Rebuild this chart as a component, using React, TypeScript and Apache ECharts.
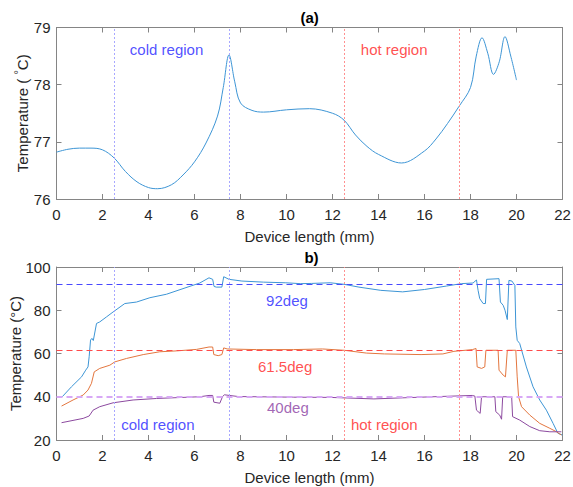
import React, { useEffect, useRef } from "react";
import * as echarts from "echarts";

// ---------- data ----------
const xMin = 0;
const xMax = 22;
const xInterval = 2;

// panel (a)
const topX = [0, 0.5, 1, 1.5, 2, 2.5, 3, 3.5, 4, 4.4, 5, 5.5, 6, 6.5, 7, 7.25, 7.5, 7.75, 8, 8.5, 9, 10, 11, 12, 12.5, 13, 13.5, 14, 15, 16, 16.5, 17, 17.5, 18, 18.25, 18.5, 18.75, 19, 19.25, 19.5, 19.75, 20];
const topY = [76.82, 76.87, 76.89, 76.89, 76.86, 76.72, 76.48, 76.3, 76.2, 76.18, 76.25, 76.42, 76.65, 76.98, 77.45, 77.95, 78.52, 78.05, 77.68, 77.55, 77.52, 77.56, 77.58, 77.5, 77.38, 77.12, 76.92, 76.78, 76.63, 76.84, 77.05, 77.32, 77.62, 77.95, 78.5, 78.82, 78.55, 78.18, 78.4, 78.84, 78.5, 78.08];

// panel (b)
const blueX = [0.25, 0.65, 1.09, 1.27, 1.37, 1.42, 1.48, 1.54, 1.6, 1.74, 1.88, 2.17, 2.46, 2.97, 3.48, 4.06, 4.78, 5.5, 6.23, 6.63, 6.79, 6.85, 6.95, 7.19, 7.27, 7.5, 8.06, 9.0, 9.97, 10.6, 11.08, 11.9, 12.5, 13.15, 14.1, 15.05, 16.0, 16.96, 17.6, 18.11, 18.26, 18.33, 18.4, 18.55, 18.65, 18.7, 19.24, 19.3, 19.42, 19.5, 19.6, 19.67, 19.8, 19.93, 19.97, 20.03, 20.14, 20.43, 20.72, 21.01, 21.3, 21.59, 21.8, 22.0];
const blueY = [40.0, 44.6, 49.2, 52.3, 53.8, 58.5, 66.2, 67.0, 66.0, 73.9, 74.6, 76.9, 79.2, 83.1, 83.8, 85.8, 87.4, 90.0, 92.6, 95.0, 94.3, 91.0, 90.7, 90.7, 95.5, 94.3, 93.5, 93.0, 92.7, 92.3, 92.4, 92.7, 92.0, 90.7, 89.2, 88.5, 89.6, 91.2, 92.3, 92.6, 94.0, 89.2, 85.4, 83.1, 83.1, 94.3, 94.6, 83.8, 82.3, 80.0, 75.7, 93.8, 93.5, 91.5, 72.3, 66.1, 64.6, 53.8, 44.6, 38.5, 33.8, 27.7, 23.1, 22.3];

const orangeX = [0.22, 0.72, 1.16, 1.37, 1.52, 1.64, 1.88, 2.32, 2.53, 3.04, 3.77, 4.49, 5.22, 6.09, 6.63, 6.79, 6.84, 7.03, 7.19, 7.27, 7.42, 8.7, 10.3, 11.56, 12.5, 13.47, 14.26, 15.85, 16.8, 17.28, 18.08, 18.24, 18.29, 18.48, 18.62, 18.67, 19.2, 19.24, 19.42, 19.52, 19.6, 19.97, 20.03, 20.09, 20.22, 20.58, 21.01, 21.45, 21.74, 21.95];
const orangeY = [35.7, 38.5, 40.8, 43.1, 46.2, 51.5, 53.1, 54.6, 56.1, 57.7, 59.5, 60.8, 61.2, 61.9, 63.0, 63.0, 59.5, 59.0, 59.5, 62.6, 62.1, 61.8, 61.8, 62.1, 61.5, 60.2, 59.8, 59.5, 59.8, 61.0, 61.8, 62.3, 53.8, 53.1, 53.8, 61.5, 61.5, 52.3, 50.0, 49.2, 61.5, 61.5, 49.2, 40.0, 35.4, 31.5, 27.7, 25.4, 23.8, 22.3];

const purpleX = [0.22, 1.16, 1.42, 1.59, 1.88, 2.46, 3.33, 4.35, 5.5, 6.23, 6.63, 6.79, 6.84, 7.1, 7.22, 7.3, 7.9, 10.3, 11.9, 13.8, 15.05, 16.65, 18.08, 18.19, 18.26, 18.42, 18.48, 19.06, 19.1, 19.27, 19.35, 19.4, 19.79, 19.83, 20.14, 20.58, 21.01, 21.45, 21.95];
const purpleY = [28.0, 30.0, 31.1, 33.8, 35.4, 37.2, 38.5, 39.2, 39.7, 40.0, 40.6, 40.6, 37.5, 37.0, 40.1, 40.9, 40.1, 39.8, 39.7, 39.0, 39.5, 40.1, 40.6, 40.3, 33.8, 32.3, 40.0, 40.0, 33.1, 31.5, 29.6, 40.0, 40.0, 30.8, 29.2, 26.2, 24.3, 23.8, 23.8];

const coldLines = [2.5, 7.5];
const hotLines = [12.5, 17.5];
const refLevels = [92, 61.5, 40];
const refLabels = ["92deg", "61.5deg", "40deg"];
const refLabelX = [10.02, 9.94, 10.06];
const refLabelY = [84.5, 54.0, 35.0];
const regionLabels = ["cold region", "hot region"];
const regionLabelXTop = [3.19, 13.23];
const regionLabelYTop = 78.62;
const regionLabelXBottom = [2.81, 12.8];
const regionLabelYBottom = 27.0;

// ---------- styles ----------
const FONT = "'Liberation Sans', Arial, Helvetica, sans-serif";
const TEXT = "#262626";
const AXIS = "#858585";
const BLUE = "#3d95d5";
const ORANGE = "#e3763f";
const PURPLE = "#8c4a9f";
const COLD = "#a8a8ff";
const HOT = "#ff9090";
const REF_COLORS = ["#4848ff", "#ff4a4a", "#d8a8f6"];
const REF_WIDTH = [1, 1, 2];
const REF_TEXT = ["#2424ff", "#ff2424", "#8a3ea2"];

const pairs = (xs: number[], ys: number[]) => xs.map((x, i) => [x, ys[i]]);

function App() {
  const ref = useRef<HTMLDivElement>(null);
  useEffect(() => {
    if (!ref.current) return;
    const chart = echarts.init(ref.current, undefined, { renderer: "svg" });

    const gridL = 56.5;
    const gridW = 506;
    const grids = [
      { left: gridL, top: 27.5, width: gridW, height: 171.5, outerBoundsMode: "none", containLabel: false },
      { left: gridL, top: 267, width: gridW, height: 173, outerBoundsMode: "none", containLabel: false },
    ];

    const baseLine = { show: true, lineStyle: { color: AXIS, width: 1 } };
    const tick = { show: true, inside: true, length: 5, lineStyle: { color: AXIS } };

    const xAxisFor = (gi: number) => [
      {
        type: "value", gridIndex: gi, position: "bottom", min: xMin, max: xMax, interval: xInterval,
        axisLine: { ...baseLine, onZero: false }, axisTick: tick, splitLine: { show: false },
        axisLabel: { color: TEXT, fontSize: 15, fontFamily: FONT, margin: 8 },
        name: "Device length (mm)", nameLocation: "middle", nameGap: 30, nameMoveOverlap: false,
        nameTextStyle: { color: TEXT, fontSize: 15, fontFamily: FONT },
      },
      {
        type: "value", gridIndex: gi, position: "top", min: xMin, max: xMax, interval: xInterval,
        axisLine: { ...baseLine, onZero: false }, axisTick: tick, splitLine: { show: false },
        axisLabel: { show: false },
      },
    ];
    const yAxisFor = (gi: number, min: number, max: number, interval: number, name: string, gap: number, rich?: any) => [
      {
        type: "value", gridIndex: gi, position: "left", min, max, interval,
        axisLine: { ...baseLine, onZero: false }, axisTick: tick, splitLine: { show: false },
        axisLabel: { color: TEXT, fontSize: 15, fontFamily: FONT, margin: 6 },
        name, nameLocation: "middle", nameGap: gap, nameMoveOverlap: false,
        nameTextStyle: { color: TEXT, fontSize: 15, fontFamily: FONT, ...(rich ? { rich } : {}) },
      },
      {
        type: "value", gridIndex: gi, position: "right", min, max, interval,
        axisLine: { ...baseLine, onZero: false }, axisTick: tick, splitLine: { show: false },
        axisLabel: { show: false },
      },
    ];

    const vLines = [
      ...coldLines.map((v) => ({ xAxis: v, lineStyle: { color: COLD, type: [2, 2], width: 1 } })),
      ...hotLines.map((v) => ({ xAxis: v, lineStyle: { color: HOT, type: [2, 2], width: 1 } })),
    ];

    const regionText = (xi: number, yi: number, xs: number[], y: number) => ({
      type: "scatter", xAxisIndex: xi, yAxisIndex: yi, symbolSize: 0, silent: true, z: 5,
      data: xs.map((x, i) => ({
        value: [x, y],
        label: {
          show: true, position: "right", distance: 0, formatter: regionLabels[i],
          color: i === 0 ? "#2424ff" : "#ff2424", fontSize: 15, fontFamily: FONT,
        },
      })),
    });

    const lineSeries = (xi: number, yi: number, data: number[][], color: string, extra: any = {}) => ({
      type: "line", xAxisIndex: xi, yAxisIndex: yi, data, showSymbol: false, symbol: "none",
      lineStyle: { color, width: 1 }, itemStyle: { color }, silent: true, ...extra,
    });

    const option: any = {
      animation: false,
      grid: grids,
      xAxis: [...xAxisFor(0), ...xAxisFor(1)],
      yAxis: [
        ...yAxisFor(0, 76, 79, 1, "Temperature ( {sup|\u00B0}C)", 25, {
          sup: { fontSize: 11, fontFamily: FONT, color: TEXT, padding: [0, 0, 8, 0] },
        }),
        ...yAxisFor(1, 20, 100, 20, "Temperature (\u00B0C)", 33.5),
      ],
      graphic: [
        { type: "text", x: 309.7, y: 17, style: { text: "(a)", fontSize: 15, fontWeight: "bold", fontFamily: FONT, fill: "#000", align: "center", verticalAlign: "middle" } },
        { type: "text", x: 311.5, y: 257, style: { text: "b)", fontSize: 15, fontWeight: "bold", fontFamily: FONT, fill: "#000", align: "center", verticalAlign: "middle" } },
      ],
      series: [
        lineSeries(0, 0, pairs(topX, topY), BLUE, {
          smooth: 0.35,
          markLine: { silent: true, symbol: ["none", "none"], label: { show: false }, data: vLines },
        }),
        regionText(0, 0, regionLabelXTop, regionLabelYTop),
        lineSeries(2, 2, pairs(blueX, blueY), BLUE, {
          markLine: {
            silent: true, symbol: ["none", "none"], label: { show: false },
            data: [
              ...vLines,
              ...refLevels.map((v, i) => ({ yAxis: v, lineStyle: { color: REF_COLORS[i], type: [6, 4], width: REF_WIDTH[i] } })),
            ],
          },
        }),
        lineSeries(2, 2, pairs(orangeX, orangeY), ORANGE),
        lineSeries(2, 2, pairs(purpleX, purpleY), PURPLE),
        regionText(2, 2, regionLabelXBottom, regionLabelYBottom),
        {
          type: "scatter", xAxisIndex: 2, yAxisIndex: 2, symbolSize: 0, silent: true, z: 5,
          data: refLabels.map((t, i) => ({
            value: [refLabelX[i], refLabelY[i]],
            label: { show: true, position: "inside", formatter: t, color: REF_TEXT[i], fontSize: 15, fontFamily: FONT },
          })),
        },
      ],
    };
    chart.setOption(option);
    return () => chart.dispose();
  }, []);

  return (
    <div
      ref={ref}
      style={{ position: "absolute", left: 0, top: 0, width: 573, height: 487, background: "#fff" }}
    />
  );
}

export default App;
